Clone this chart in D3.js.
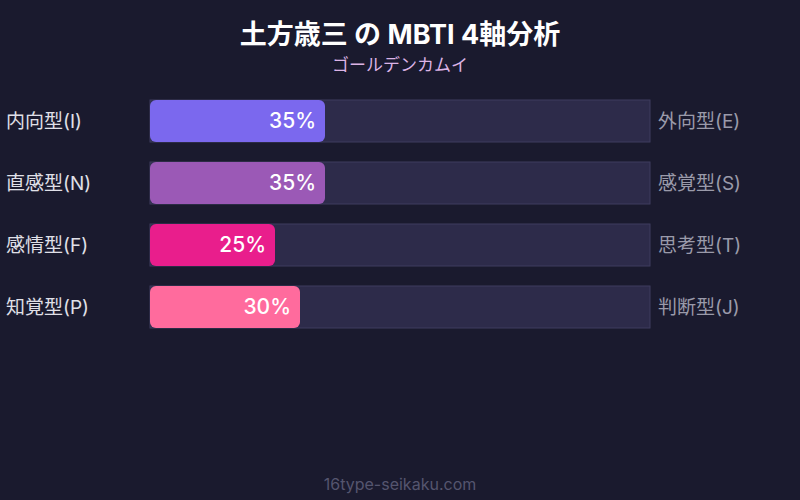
<!DOCTYPE html>
<html><head><meta charset="utf-8">
<script src="https://cdn.jsdelivr.net/npm/d3@7"></script>
<style>
html,body{margin:0;padding:0;background:#1a1a2e;}
svg{display:block;font-family:Inter,"Noto Sans CJK JP",sans-serif;}
</style></head>
<body><svg id="c" width="800" height="500"></svg>
<script>
const leftLabels = ["内向型(I)","直感型(N)","感情型(F)","知覚型(P)"];
const rightLabels = ["外向型(E)","感覚型(S)","思考型(T)","判断型(J)"];
const values = [35,35,25,30];
const colors = ["#7b68ee","#9b59b6","#e91e8c","#ff6b9d"];
const title = "土方歳三 の MBTI 4軸分析";
const subtitle = "ゴールデンカムイ";
const footer = "16type-seikaku.com";

const svg = d3.select("#c");
svg.append("rect").attr("width",800).attr("height",500).attr("fill","#1a1a2e");

const x = d3.scaleLinear().domain([0,100]).range([150,650]);
const y = d3.scaleBand().domain(d3.range(values.length)).range([100,328]).paddingInner(20/62).paddingOuter(0).align(0);

svg.append("text").attr("x",400).attr("y",44).attr("text-anchor","middle")
  .attr("fill","#ffffff").attr("font-size",27).attr("font-weight","bold").text(title);
svg.append("text").attr("x",400).attr("y",71).attr("text-anchor","middle")
  .attr("fill","#dcb4e6").attr("font-size",17).text(subtitle);

const g = svg.append("g").selectAll("g").data(values).join("g");
g.append("rect").attr("x",x(0)).attr("y",(d,i)=>y(i)).attr("width",x(100)-x(0)).attr("height",y.bandwidth())
  .attr("fill","#2d2b4a").attr("stroke","#3e3c5e").attr("stroke-width",1);
g.append("rect").attr("x",x(0)).attr("y",(d,i)=>y(i)).attr("width",d=>x(d)-x(0)).attr("height",y.bandwidth())
  .attr("rx",6).attr("fill",(d,i)=>colors[i]);
g.append("text").attr("x",d=>x(d)-9).attr("y",(d,i)=>y(i)+y.bandwidth()/2).attr("dy","0.35em")
  .attr("text-anchor","end").attr("fill","#ffffff").attr("font-size",21).attr("font-weight",500).text(d=>d+"%");
g.append("text").attr("x",6).attr("y",(d,i)=>y(i)+y.bandwidth()/2).attr("dy","0.35em")
  .attr("fill","#e0e0e8").attr("font-size",19).text((d,i)=>leftLabels[i]);
g.append("text").attr("x",x(100)+8).attr("y",(d,i)=>y(i)+y.bandwidth()/2).attr("dy","0.35em")
  .attr("fill","#9a9aaa").attr("font-size",19).text((d,i)=>rightLabels[i]);

svg.append("text").attr("x",400).attr("y",490).attr("text-anchor","middle")
  .attr("fill","#55556e").attr("font-size",16).text(footer);
</script></body></html>
